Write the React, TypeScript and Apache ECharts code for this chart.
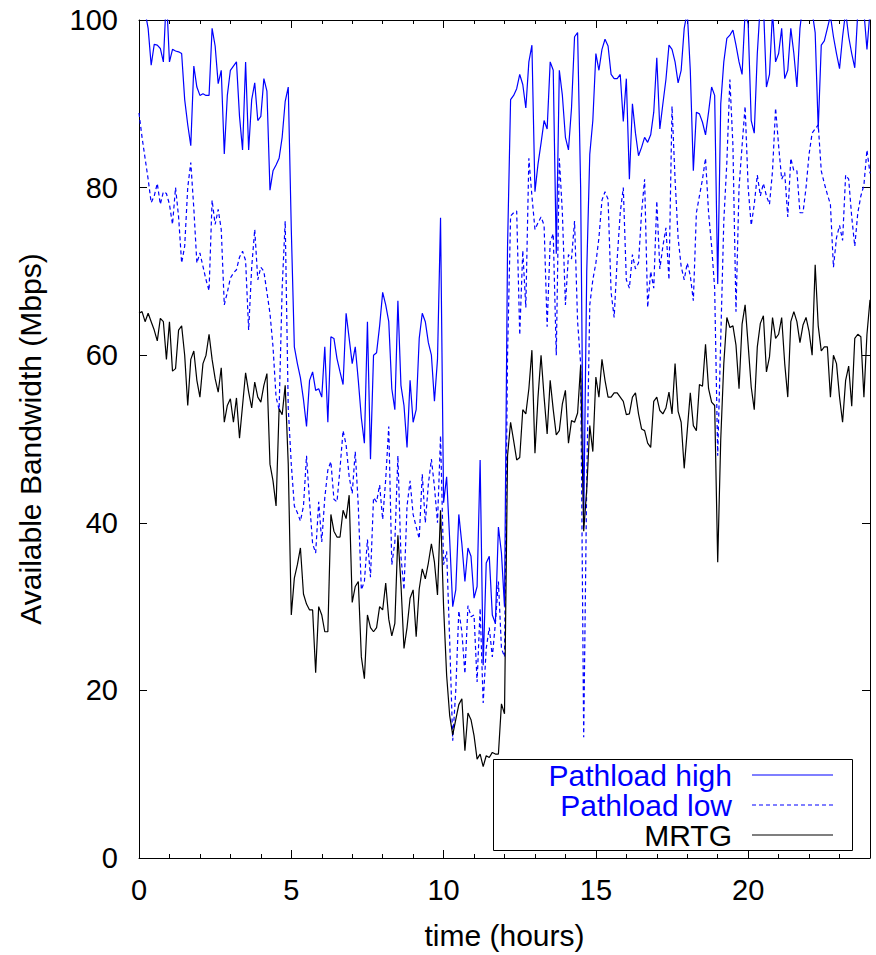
import React, { useEffect, useRef } from "react";
import * as echarts from "echarts";

// Values sampled every 0.1 hour, from 0 to 24 h
const STEP_HOURS = 0.1;

const mrtg = [
  65, 65.2, 64, 65, 64, 63, 61.7, 64.4, 64, 59.5,
  64, 58.1, 58.4, 63, 63.5, 60, 54, 59.5, 60.5, 57,
  55, 59, 60, 62.5, 59.5, 57.2, 55.6, 58.5, 52, 54,
  54.8, 52, 54.9, 50.1, 54, 57.9, 55.6, 53.7, 56.8, 55,
  54.4, 56.4, 57.8, 47, 45, 42, 53.6, 52.9, 56.4, 47,
  29, 33.4, 35, 37, 31.5, 30.3, 29.6, 29.6, 22.1, 30,
  29, 27, 27, 41, 39, 38.3, 38.3, 41.5, 40.5, 43.3,
  30.5, 32.4, 33, 24, 21.4, 29, 27.5, 27, 27.5, 30,
  29.6, 32.8, 28.5, 26.5, 28, 38.5, 32.7, 25, 27.5, 31,
  32, 26.4, 32.1, 34.5, 33.3, 35.2, 37.5, 35.3, 31.4, 41.5,
  30, 21.8, 17, 14.7, 16.5, 18.3, 19, 12.8, 17.3, 16.5,
  14.6, 11.8, 12.4, 10.9, 12.2, 12, 12.6, 12.4, 12.4, 18.4,
  17.2, 48, 52, 49.8, 47.5, 47.8, 53.5, 53, 56, 60.6,
  48.3, 55, 60, 55, 50.6, 57, 53.5, 50.5, 51, 54.2,
  55.8, 49.5, 52.2, 52, 53.1, 58.8, 39, 44, 51.6, 48.5,
  57.4, 55, 59.5, 57, 55, 55, 55.5, 55.5, 55, 54.5,
  52.9, 53, 55, 55.5, 53, 51.2, 51, 49.5, 49, 54.5,
  55, 53.4, 53, 53.7, 55.6, 53, 59, 53.3, 52, 46.5,
  51, 55.5, 51.6, 51, 56.5, 56.3, 61.3, 56, 54.4, 54,
  35.3, 50, 59, 64.5, 63.3, 63.5, 61.2, 56, 63.7, 66,
  61.2, 56.2, 53.5, 61, 63.8, 64.7, 58, 59.8, 64.5, 62,
  62.5, 64.5, 59, 55, 64, 65.2, 64, 61.5, 63.6, 64.5,
  62.8, 60, 70.8, 63.5, 60.5, 61, 61, 55, 60, 59,
  55, 52, 57, 58.7, 53.9, 62, 62.5, 62.2, 55, 62.5,
  66.6,
];

const pathloadHigh = [
  103, 103, 101, 99, 94.6, 97.1, 97, 96.6, 95, 103,
  95, 96.5, 96.3, 96.2, 96, 90.5, 87.5, 85, 94.5, 92,
  91, 91.2, 91, 91, 99, 96.9, 92.4, 94, 84, 91,
  94, 94.5, 95, 88.5, 84.5, 95, 84.5, 90.5, 92.5, 88,
  88.5, 93, 91.5, 79.7, 82, 82.7, 83.5, 86, 90.3, 92,
  75, 61, 59, 57.3, 54.7, 51.5, 57, 58, 55.8, 56,
  55, 61, 52, 62.2, 62, 59.6, 58, 56.5, 65, 62,
  59, 61, 57, 52.5, 49.5, 64, 47.6, 60, 60.3, 63.5,
  67.5, 66, 64, 56, 53.5, 66.5, 56.4, 54, 49, 57,
  52, 53.5, 62, 65, 64, 61.5, 60, 54.5, 59.5, 76.4,
  42.4, 45.5, 38, 30, 32, 41, 37.5, 33, 37, 36,
  31, 32.4, 47.5, 23, 35.2, 36, 29, 28, 39.5, 36.4,
  30, 73, 90.5, 91, 91.8, 93.5, 92.3, 89.5, 95, 97,
  79.5, 82.8, 85.3, 88, 87, 95, 94, 72.1, 94, 91,
  86, 84.5, 89.5, 98, 98.5, 80, 40, 70, 84, 88,
  96, 94, 96.5, 97.7, 96.9, 93.5, 93, 93, 93.5, 87.9,
  93, 81, 90, 86.5, 83.8, 84.8, 86, 85.4, 86.3, 89,
  95.5, 87, 90, 92.9, 97, 96.5, 95, 92.5, 94, 99,
  101, 94, 82, 89, 88.8, 87.8, 86.3, 89, 92, 91,
  68.5, 90, 95, 97.8, 98.2, 98.8, 97, 95, 93.5, 101,
  99.5, 88, 86.5, 96, 102, 102, 92, 93.5, 101, 95,
  96, 99, 93, 94, 99, 96, 92, 99, 102, 102,
  102, 101, 98.5, 87, 97, 97.5, 99, 100.5, 98, 96,
  94.2, 98, 101, 98, 96, 94.3, 101, 102, 101, 96.5,
  101,
];

const pathloadLow = [
  88.9, 86, 83.5, 81, 78.2, 79, 80.5, 78, 79.5, 79.3,
  78, 75.6, 80, 76.5, 71, 73, 80, 83, 77.5, 71,
  72.2, 70.6, 69, 67.7, 78.5, 75.6, 77.4, 75, 66, 67.5,
  69.2, 69.8, 70.2, 71.7, 72.4, 71.3, 63, 70.5, 75, 69,
  70.5, 70, 67.5, 65, 61, 55, 53.5, 68, 76, 53.7,
  47, 42, 41.2, 40.2, 42, 48, 42.5, 37.5, 36.4, 42.5,
  37.7, 43, 46.3, 47.3, 42.8, 42.5, 46.5, 51, 49.3, 45.5,
  43.5, 48.5, 42, 32, 33, 38, 33.5, 43, 42.5, 44.5,
  40.4, 45.2, 51.5, 35, 37.7, 48, 36, 32, 42, 45,
  41, 39.5, 38.1, 45.8, 40, 44.6, 47.6, 44.3, 40, 50.4,
  35, 36.6, 26, 14, 20, 29.5, 27, 22, 30.1, 28.8,
  29, 21, 29.8, 18.5, 25, 27.5, 24, 28, 33, 25,
  24, 60, 76.6, 77, 77.2, 62.4, 72.5, 65.7, 83.5, 79,
  75, 75.8, 76.5, 75.5, 63.4, 73.5, 74.5, 60, 83.5, 77,
  66, 72, 71.5, 76, 64, 59, 14.4, 45, 66, 69,
  71, 74, 78.5, 79.5, 78.6, 67.5, 64.5, 71.5, 77, 80,
  69, 68, 72, 70.3, 71, 77, 81, 65.7, 70, 68,
  78.4, 70.3, 73, 75.2, 69, 89.7, 81, 74, 70.6, 69,
  71, 69.5, 66.5, 77, 79, 81, 83.5, 77, 73, 68,
  48, 62, 76, 83, 92.9, 85, 65.2, 80, 85, 89.7,
  80, 75.5, 78, 81.5, 79, 80.5, 79, 78, 82, 89.5,
  85, 81, 81.8, 76.5, 83.5, 82, 82, 77, 77, 80,
  84, 86.5, 87, 87.5, 82, 80.5, 79.2, 78, 70.5, 74,
  75.5, 73.7, 81.5, 81, 76.5, 73, 77, 79, 80.3, 84.5,
  81.7,
];

const hours = mrtg.map((_, i) => Math.round(i * STEP_HOURS * 10) / 10);

const legendItems = ["Pathload high", "Pathload low", "MRTG"];
const xTitle = "time (hours)";
const yTitle = "Available Bandwidth (Mbps)";

const FONT = '"Liberation Sans", Arial, Helvetica, sans-serif';
const BLUE = "#0000ff";
const BLACK = "#000000";
const FS_TICK = 29;
const FS_TEXT = 30;

const W = 876;
const H = 955;
const GRID = { left: 139, right: 6, top: 20, bottom: 97 };

function toPairs(values: number[]) {
  return values.map((v, i) => [hours[i], v]);
}

export default function App() {
  const ref = useRef<HTMLDivElement>(null);

  useEffect(() => {
    if (!ref.current) return;
    const chart = echarts.init(ref.current, undefined, { renderer: "svg" });

    const tickStyle = { color: BLACK, width: 1 };
    const majorX = (position: "bottom" | "top", labels: boolean) => ({
      type: "value",
      gridIndex: 0,
      position,
      min: 0,
      max: 24,
      interval: 5,
      axisLine: { show: true, onZero: false, lineStyle: tickStyle },
      axisTick: { show: true, inside: true, length: 8, lineStyle: tickStyle },
      axisLabel: {
        show: labels,
        showMaxLabel: false,
        color: BLACK,
        fontSize: FS_TICK,
        fontFamily: FONT,
        margin: 17,
      },
      splitLine: { show: false },
      ...(labels
        ? {
            name: xTitle,
            nameLocation: "middle",
            nameGap: 62,
            nameTextStyle: { color: BLACK, fontSize: FS_TEXT, fontFamily: FONT },
          }
        : {}),
    });
    const minorX = (position: "bottom" | "top") => ({
      type: "value",
      gridIndex: 1,
      position,
      min: 0,
      max: 24,
      interval: 1,
      axisLine: { show: false },
      axisTick: { show: true, inside: true, length: 4, lineStyle: tickStyle },
      axisLabel: { show: false },
      splitLine: { show: false },
    });
    const majorY = (position: "left" | "right", labels: boolean) => ({
      type: "value",
      gridIndex: 0,
      position,
      min: 0,
      max: 100,
      interval: 20,
      axisLine: { show: true, onZero: false, lineStyle: tickStyle },
      axisTick: { show: true, inside: true, length: 8, lineStyle: tickStyle },
      axisLabel: {
        show: labels,
        color: BLACK,
        fontSize: FS_TICK,
        fontFamily: FONT,
        margin: 21,
      },
      splitLine: { show: false },
      ...(labels
        ? {
            name: yTitle,
            nameLocation: "middle",
            nameGap: 94,
            nameRotate: 90,
            nameTextStyle: { color: BLACK, fontSize: FS_TEXT, fontFamily: FONT },
          }
        : {}),
    });

    const lx = 752;
    const lx2 = 833;
    const textRight = 732;
    const rows = [775, 805, 835];

    chart.setOption({
      animation: false,
      backgroundColor: "#ffffff",
      grid: [
        { ...GRID, containLabel: false },
        { ...GRID, containLabel: false },
      ],
      xAxis: [majorX("bottom", true), majorX("top", false), minorX("bottom"), minorX("top")],
      yAxis: [
        majorY("left", true),
        majorY("right", false),
        { type: "value", gridIndex: 1, min: 0, max: 100, show: false },
      ],
      series: [
        {
          name: legendItems[0],
          type: "line",
          xAxisIndex: 0,
          yAxisIndex: 0,
          data: toPairs(pathloadHigh),
          showSymbol: false,
          symbol: "none",
          clip: true,
          lineStyle: { color: BLUE, width: 1.2 },
          z: 3,
        },
        {
          name: legendItems[1],
          type: "line",
          xAxisIndex: 0,
          yAxisIndex: 0,
          data: toPairs(pathloadLow),
          showSymbol: false,
          symbol: "none",
          clip: true,
          lineStyle: { color: BLUE, width: 1.2, type: [4, 3] },
          z: 3,
        },
        {
          name: legendItems[2],
          type: "line",
          xAxisIndex: 0,
          yAxisIndex: 0,
          data: toPairs(mrtg),
          showSymbol: false,
          symbol: "none",
          clip: true,
          lineStyle: { color: BLACK, width: 1.2 },
          z: 4,
        },
      ],
      graphic: [
        {
          type: "rect",
          z: 100,
          shape: { x: 493.5, y: 759.5, width: 359, height: 91 },
          style: { fill: "#ffffff", stroke: BLACK, lineWidth: 1 },
        },
        ...legendItems.map((t, i) => ({
          type: "text",
          z: 101,
          x: textRight,
          y: rows[i],
          style: {
            text: t,
            fill: i < 2 ? BLUE : BLACK,
            fontSize: FS_TEXT,
            fontFamily: FONT,
            align: "right",
            verticalAlign: "middle",
          },
        })),
        ...legendItems.map((_, i) => ({
          type: "line",
          z: 101,
          shape: { x1: lx, y1: rows[i], x2: lx2, y2: rows[i] },
          style: {
            stroke: i < 2 ? BLUE : BLACK,
            lineWidth: 1.2,
            lineDash: i === 1 ? [4, 3] : null,
          },
        })),
      ],
    });

    return () => chart.dispose();
  }, []);

  return (
    <div
      ref={ref}
      style={{ position: "absolute", left: 0, top: 0, width: W, height: H, background: "#fff" }}
    />
  );
}
